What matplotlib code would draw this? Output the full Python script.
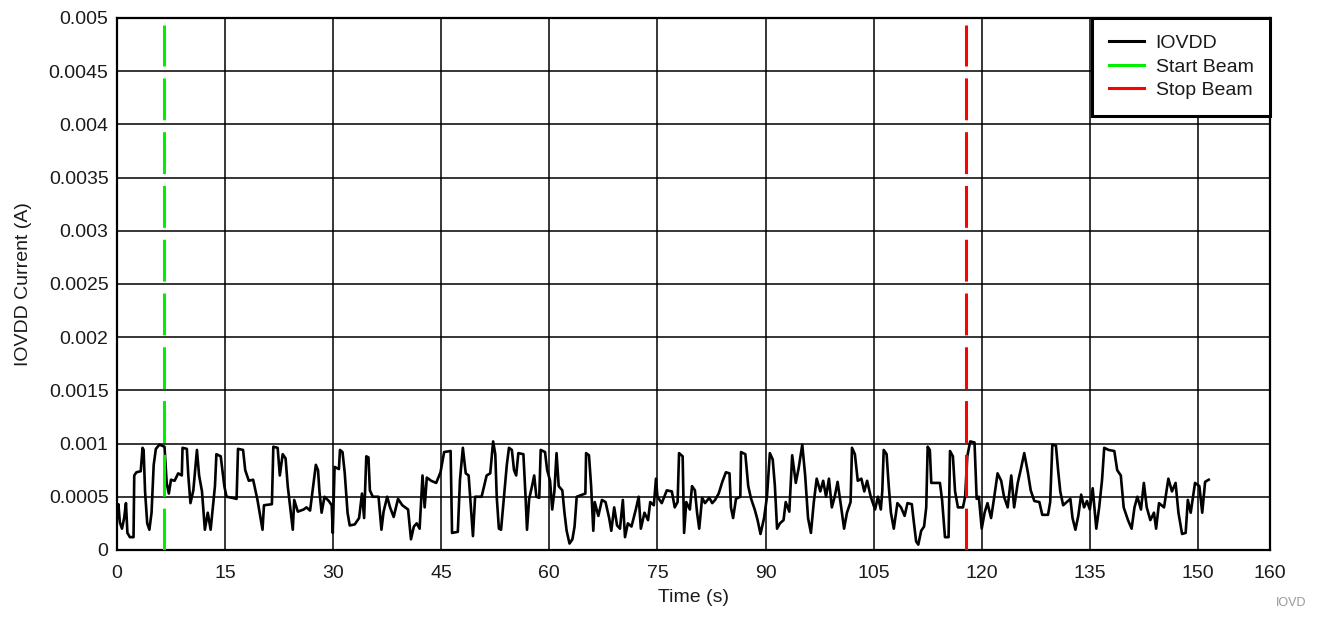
import matplotlib
matplotlib.use('Agg')
import matplotlib.pyplot as plt
from matplotlib.ticker import FuncFormatter

# IOVDD current trace, values in units of 1e-4 A
time_s = [0.0, 0.2, 0.4, 0.7, 1.0, 1.25, 1.45, 1.8, 2.3, 2.4, 2.7, 3.3, 3.55, 3.7, 3.9, 4.2, 4.5, 4.8,
          5.1, 5.4, 5.9, 6.6, 6.9, 7.2, 7.5, 8.0, 8.5, 9.0, 9.1, 9.7, 9.9, 10.2, 10.6, 11.1, 11.4, 11.8,
          12.2, 12.6, 13.0, 13.6, 13.8, 14.4, 14.9, 15.2, 16.0, 16.6, 16.8, 17.5, 17.8, 18.3, 18.9, 19.5,
          20.2, 20.4, 21.5, 21.7, 22.3, 22.6, 23.0, 23.4, 23.7, 24.4, 24.6, 25.1, 25.9,
          26.3, 26.8, 27.3, 27.6, 27.9, 28.1, 28.4, 28.8, 29.4, 29.8, 29.95, 30.2, 30.8, 30.95, 31.3, 31.6,
          32.0, 32.3, 33.0, 33.6, 34.0, 34.3, 34.6, 34.9, 35.1, 35.5, 36.3, 36.7, 37.0, 37.5, 37.9, 38.4,
          39.0, 39.6, 40.4, 40.8, 41.2, 41.6, 42.0, 42.4, 42.7, 43.0, 43.6, 44.3, 44.9, 45.4, 46.3, 46.5,
          47.3, 47.6, 48.0, 48.4, 48.8, 49.4, 49.7, 50.6, 51.3, 51.8, 52.2,
          52.5, 52.7, 53.0, 53.3, 53.7, 54.1, 54.4, 54.8, 55.1, 55.4, 55.7, 56.4, 56.7, 56.9, 57.2, 57.6,
          57.9, 58.2, 58.6, 58.8, 59.4, 59.7, 60.1, 60.4, 60.7, 61.0, 61.3, 61.8, 62.1, 62.4, 62.8, 63.2,
          63.5, 63.8, 64.6, 65.0, 65.1, 65.5, 65.8, 66.1, 66.3, 66.8, 67.3, 67.8, 68.3, 68.6, 69.0, 69.4,
          69.8, 70.2, 70.5, 70.9, 71.4, 72.0, 72.4, 72.7, 73.2, 73.7, 74.0, 74.5, 74.8, 75.0, 75.6, 76.3,
          77.0, 77.4, 77.8, 78.0, 78.5,
          78.7, 79.0, 79.5, 79.8, 80.2, 80.5, 80.8, 81.2, 81.6, 82.2, 82.6, 83.0, 83.5, 84.0, 84.5, 85.0,
          85.2, 85.5, 85.9, 86.5, 86.6, 87.2, 87.6, 88.0, 88.5, 88.9, 89.3, 89.8, 90.2, 90.6, 91.0, 91.3,
          91.6, 92.0, 92.5, 92.8, 93.3, 93.7, 94.2, 94.6, 95.1, 95.5, 95.9, 96.3, 96.7, 97.1, 97.6, 98.0,
          98.4, 98.8, 99.2, 99.6, 100.0, 100.5, 100.9, 101.3, 101.8, 102.0, 102.4, 102.8, 103.3, 103.7,
          104.1, 104.6, 105.2,
          105.6, 106.0, 106.2, 106.4, 106.8, 107.1, 107.4, 107.8, 108.3, 108.8, 109.3, 109.7, 110.3, 110.6,
          110.9, 111.2, 111.6, 112.0, 112.3, 112.5, 112.8, 113.0, 113.6, 114.2, 114.5, 114.9, 115.4, 115.6,
          116.0, 116.3, 116.7, 117.4, 117.7, 118.0, 118.4, 119.0, 119.3, 119.6, 120.0, 120.4, 120.8, 121.3,
          121.7, 122.2, 122.7, 123.1, 123.6, 124.1, 124.5, 125.0, 125.4, 125.9, 126.4, 126.8, 127.3, 128.0,
          128.4, 129.2, 129.5, 129.8, 130.3, 130.6, 130.9, 131.3,
          132.3, 132.6, 133.0, 133.4, 133.8, 134.2, 134.6, 135.0, 135.4, 135.9, 136.3, 136.7, 137.0, 137.6,
          138.4, 138.8, 139.3, 139.7, 140.3, 140.8, 141.2, 141.6, 142.1, 142.5, 142.9, 143.4, 143.9, 144.2,
          144.6, 145.3, 145.9, 146.4, 146.9, 147.3, 147.8, 148.3, 148.6, 149.0, 149.6, 150.2, 150.6, 151.0,
          151.5]
iovdd_e4 = [3.0, 4.3, 2.6, 2.0, 3.0, 4.4, 1.6, 1.2, 1.2, 7.0, 7.3, 7.4, 9.6, 9.4, 5.5, 2.5, 1.9, 3.5,
            8.0, 9.5, 9.9, 9.7, 6.3, 5.3, 6.6, 6.5, 7.2, 7.0, 9.6, 9.5, 7.0, 4.4, 5.6, 9.4, 7.0, 5.5,
            1.9, 3.5, 1.9, 6.0, 9.0, 8.8, 6.0, 5.0, 4.9, 4.8, 9.5, 9.4, 7.5, 6.5, 6.6, 4.7,
            1.9, 4.2, 4.3, 9.7, 9.6, 7.0, 9.0, 8.6, 6.0, 1.9, 4.7, 3.6, 3.8,
            4.0, 3.7, 6.4, 8.0, 7.5, 5.5, 3.5, 5.0, 4.6, 4.2, 1.6, 7.8, 7.6, 9.4, 9.2, 7.3,
            3.5, 2.3, 2.4, 3.0, 5.3, 3.0, 8.8, 8.7, 5.6, 5.0, 5.0, 1.9, 3.6, 5.0, 4.0, 3.1,
            4.8, 4.2, 3.8, 1.0, 2.2, 2.5, 2.0, 7.0, 4.0, 6.8, 6.5, 6.3, 7.3, 9.2, 9.3, 1.6,
            1.7, 6.6, 9.6, 7.2, 7.0, 1.3, 5.0, 5.0, 7.0, 7.2, 10.2,
            9.0, 5.0, 2.0, 1.9, 5.0, 8.0, 9.6, 9.4, 7.5, 7.0, 9.1, 9.0, 5.0, 1.9, 4.8, 6.0,
            7.0, 5.0, 4.9, 9.4, 9.2, 7.5, 6.5, 3.8, 5.5, 9.1, 6.0, 5.6, 3.5, 1.8, 0.6, 1.0,
            2.2, 5.0, 5.2, 5.3, 9.1, 8.9, 6.0, 1.8, 4.5, 3.2, 4.7, 4.5, 3.0, 1.8, 4.0, 2.3,
            2.0, 4.7, 1.2, 2.5, 2.2, 3.8, 5.0, 2.0, 3.5, 2.8, 4.5, 4.2, 6.7, 5.0, 4.4, 5.6,
            5.5, 4.0, 4.5, 9.1, 8.8,
            1.6, 4.5, 3.8, 6.0, 5.6, 3.5, 2.0, 4.9, 4.4, 4.9, 4.4, 4.7, 5.3, 6.4, 7.3, 7.2,
            4.0, 3.0, 4.8, 5.0, 9.2, 9.0, 6.0, 4.8, 3.8, 2.8, 1.5, 3.0, 5.0, 9.1, 8.5, 6.0,
            2.0, 2.5, 2.8, 4.5, 3.6, 8.9, 6.3, 7.7, 9.9, 7.0, 3.0, 1.6, 4.5, 6.7, 5.5, 6.5,
            5.0, 6.7, 4.0, 5.0, 6.4, 4.0, 2.0, 3.5, 4.5, 9.6, 9.0, 6.5, 6.7, 5.5,
            6.5, 5.0, 3.8,
            5.0, 3.8, 5.5, 9.4, 9.0, 6.0, 3.5, 2.0, 4.4, 4.0, 3.2, 4.4, 4.3, 2.5,
            0.8, 0.5, 1.8, 2.2, 4.0, 9.7, 9.4, 6.3, 6.3, 6.3, 4.7, 1.2, 1.2, 9.3,
            8.8, 5.5, 4.0, 4.0, 5.0, 8.8, 10.2, 10.1, 4.8, 5.0, 2.0, 3.5, 4.4, 3.0,
            4.8, 7.2, 6.5, 5.0, 4.0, 7.0, 4.0, 6.3, 7.5, 9.1, 7.3, 5.6, 4.6, 4.5,
            3.3, 3.3, 4.5, 9.9, 9.8, 7.5, 5.5, 4.2,
            4.8, 3.0, 1.9, 3.2, 5.2, 4.0, 4.6, 3.8, 5.8, 2.0, 4.0, 6.6, 9.6, 9.4,
            9.3, 7.5, 7.0, 4.0, 2.8, 2.0, 4.0, 5.0, 3.8, 6.3, 4.0, 2.8, 3.5, 2.0,
            4.4, 4.0, 6.7, 5.5, 6.3, 3.5, 1.5, 1.6, 4.7, 3.5, 6.3, 6.0, 3.5, 6.4,
            6.6]
iovdd = [v * 1e-4 for v in iovdd_e4]

start_beam = 6.5
stop_beam = 117.8
beam_top = 0.00493

x_ticks = [0, 15, 30, 45, 60, 75, 90, 105, 120, 135, 150, 160]
y_ticks = [0, 0.0005, 0.001, 0.0015, 0.002, 0.0025, 0.003, 0.0035, 0.004, 0.0045, 0.005]

plt.rcParams['font.family'] = ['Liberation Sans', 'DejaVu Sans']
txt = '#1a1a1a'

fig = plt.figure(figsize=(13.2, 6.2), dpi=100)
ax = fig.add_axes([0.0886, 0.113, 0.8735, 0.858])

ax.plot(time_s, iovdd, color='black', lw=1.9, label='IOVDD', zorder=3)
ax.plot([start_beam, start_beam], [0, beam_top], color='#00ee00', lw=2.2,
        linestyle=(0, (13.7, 3.9)), label='Start Beam', zorder=4)
ax.plot([stop_beam, stop_beam], [0, beam_top], color='#ff0000', lw=2.2,
        linestyle=(0, (13.7, 3.9)), label='Stop Beam', zorder=4)

ax.set_xlim(0, 160)
ax.set_ylim(0, 0.005)
ax.set_xticks(x_ticks)
ax.set_yticks(y_ticks)
ax.yaxis.set_major_formatter(FuncFormatter(lambda v, p: '%g' % v))
ax.grid(True, color='black', lw=1.1)
ax.set_axisbelow(True)
ax.tick_params(axis='both', length=0, labelsize=14, colors=txt)
ax.tick_params(axis='x', pad=11)
ax.tick_params(axis='y', pad=6)
for s in ax.spines.values():
    s.set_linewidth(1.6)
    s.set_color('black')

ax.set_xlabel('Time (s)', fontsize=14, color=txt, labelpad=5)
ax.set_ylabel('IOVDD Current (A)', fontsize=14, color=txt, labelpad=12)

leg = ax.legend(loc='upper right', bbox_to_anchor=(1.0, 1.0), borderaxespad=0,
                fontsize=14, fancybox=False, framealpha=1, handlelength=1.85,
                handletextpad=0.57, borderpad=0.85, labelspacing=0.3)
leg.get_frame().set_edgecolor('black')
leg.get_frame().set_linewidth(2.2)
for t in leg.get_texts():
    t.set_color(txt)
for h in leg.get_lines():
    h.set_linestyle('-')
    h.set_linewidth(2.2)

fig.text(0.99, 0.017, 'IOVD', fontsize=9, color='#999999', ha='right', va='bottom')

fig.savefig('out.png', dpi=100)
